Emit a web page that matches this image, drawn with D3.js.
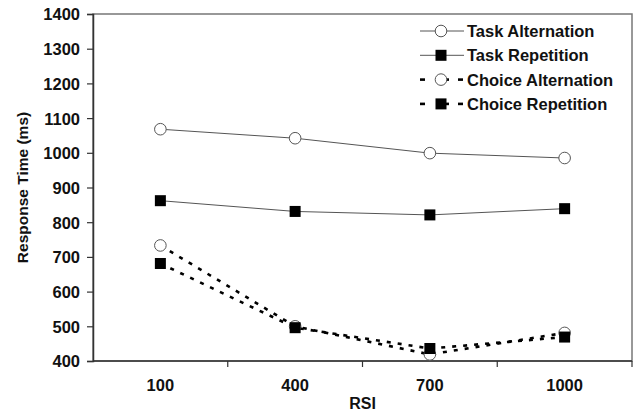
<!DOCTYPE html>
<html>
<head>
<meta charset="utf-8">
<script src="https://cdn.jsdelivr.net/npm/d3@7"></script>
<style>
  body { margin: 0; background: #fff; }
  svg text { font-family: "Liberation Sans", Arial, sans-serif; font-weight: bold; fill: #111; }
</style>
</head>
<body>
<svg id="chart" width="635" height="412"></svg>
<script>
// RSI categories and mean response times (ms)
const rsi = ["100", "400", "700", "1000"];
const taskAlternation = [1068, 1042, 999, 985];
const taskRepetition = [862, 831, 821, 839];
const choiceAlternation = [733, 500, 419, 481];
const choiceRepetition = [681, 496, 436, 469];
const yTicks = [400, 500, 600, 700, 800, 900, 1000, 1100, 1200, 1300, 1400];

const series = [
  { name: "Task Alternation", values: taskAlternation, marker: "circle", dashed: false },
  { name: "Task Repetition", values: taskRepetition, marker: "square", dashed: false },
  { name: "Choice Alternation", values: choiceAlternation, marker: "circle", dashed: true },
  { name: "Choice Repetition", values: choiceRepetition, marker: "square", dashed: true },
];

const width = 635;
const height = 412;
const margin = { top: 14, right: 3, bottom: 51, left: 93 };

const svg = d3.select("#chart");

const xScale = d3
  .scaleBand()
  .domain(rsi)
  .range([margin.left, width - margin.right]);

const yScale = d3
  .scaleLinear()
  .domain([400, 1400])
  .range([height - margin.bottom, margin.top]);

// frame (top and right in gray)
svg
  .append("rect")
  .attr("x", margin.left)
  .attr("y", margin.top)
  .attr("width", width - margin.left - margin.right)
  .attr("height", height - margin.top - margin.bottom)
  .attr("fill", "none")
  .attr("stroke", "#777")
  .attr("stroke-width", 1.5);

// y axis
const yAxis = svg
  .append("g")
  .attr("transform", `translate(${margin.left},0)`)
  .call(
    d3.axisLeft(yScale).tickValues(yTicks).tickFormat(d3.format("d")).tickSize(6).tickPadding(7)
  );
yAxis.select(".domain").attr("stroke", "#333").attr("stroke-width", 1.5);
yAxis.selectAll(".tick line").attr("stroke", "#333").attr("stroke-width", 1.2);
yAxis.selectAll(".tick text").style("font-size", "16.5px").attr("dy", "0.36em");

// x axis: ticks on band edges, labels centered
const xAxis = svg
  .append("g")
  .attr("transform", `translate(0,${height - margin.bottom})`);
xAxis
  .append("line")
  .attr("x1", margin.left)
  .attr("x2", width - margin.right)
  .attr("stroke", "#333")
  .attr("stroke-width", 1.5);
xAxis
  .selectAll(".edge")
  .data(rsi.slice(1))
  .enter()
  .append("line")
  .attr("class", "edge")
  .attr("x1", (d) => xScale(d))
  .attr("x2", (d) => xScale(d))
  .attr("y1", 0)
  .attr("y2", 6)
  .attr("stroke", "#333")
  .attr("stroke-width", 1.2);
xAxis
  .append("line")
  .attr("x1", width - margin.right)
  .attr("x2", width - margin.right)
  .attr("y1", 0)
  .attr("y2", 6)
  .attr("stroke", "#333")
  .attr("stroke-width", 1.2);
xAxis
  .selectAll(".lbl")
  .data(rsi)
  .enter()
  .append("text")
  .attr("class", "lbl")
  .attr("x", (d) => xScale(d) + xScale.bandwidth() / 2)
  .attr("y", 30)
  .attr("text-anchor", "middle")
  .style("font-size", "16.5px")
  .text((d) => d);

// axis titles
svg
  .append("text")
  .attr("x", (margin.left + width - margin.right) / 2)
  .attr("y", 409)
  .attr("text-anchor", "middle")
  .style("font-size", "16px")
  .text("RSI");

svg
  .append("text")
  .attr("transform", `translate(28,${(margin.top + height - margin.bottom) / 2}) rotate(-90)`)
  .attr("text-anchor", "middle")
  .style("font-size", "15.5px")
  .text("Response Time (ms)");

const cx = (i) => xScale(rsi[i]) + xScale.bandwidth() / 2;

function drawMarker(g, type, x, y) {
  if (type === "circle") {
    g.append("circle")
      .attr("cx", x)
      .attr("cy", y)
      .attr("r", 5.8)
      .attr("fill", "#fff")
      .attr("stroke", "#555")
      .attr("stroke-width", 1);
  } else {
    g.append("rect")
      .attr("x", x - 5.5)
      .attr("y", y - 5.5)
      .attr("width", 11)
      .attr("height", 11)
      .attr("fill", "#000");
  }
}

const line = d3
  .line()
  .x((d, i) => cx(i))
  .y((d) => yScale(d));

// lines
series.forEach((s) => {
  svg
    .append("path")
    .datum(s.values)
    .attr("d", line)
    .attr("fill", "none")
    .attr("stroke", s.dashed ? "#000" : "#555")
    .attr("stroke-width", s.dashed ? 2.6 : 1)
    .attr("stroke-dasharray", s.dashed ? "4,7" : null);
});

// markers
series.forEach((s) => {
  const g = svg.append("g");
  s.values.forEach((v, i) => drawMarker(g, s.marker, cx(i), yScale(v)));
});

// legend
const legend = svg.append("g").attr("transform", "translate(420,31)");
series.forEach((s, i) => {
  const row = legend.append("g").attr("transform", `translate(0,${i * 24.3})`);
  if (s.dashed) {
    [[0, 5], [25, 29], [38, 43]].forEach(([a, b]) =>
      row.append("line").attr("x1", a).attr("x2", b).attr("stroke", "#000").attr("stroke-width", 2.6)
    );
  } else {
    row.append("line").attr("x1", 0).attr("x2", 44).attr("stroke", "#555").attr("stroke-width", 1);
  }
  drawMarker(row, s.marker, 21, 0);
  row
    .append("text")
    .attr("x", 47)
    .attr("y", 6)
    .style("font-size", "16.5px")
    .text(s.name);
});
</script>
</body>
</html>
